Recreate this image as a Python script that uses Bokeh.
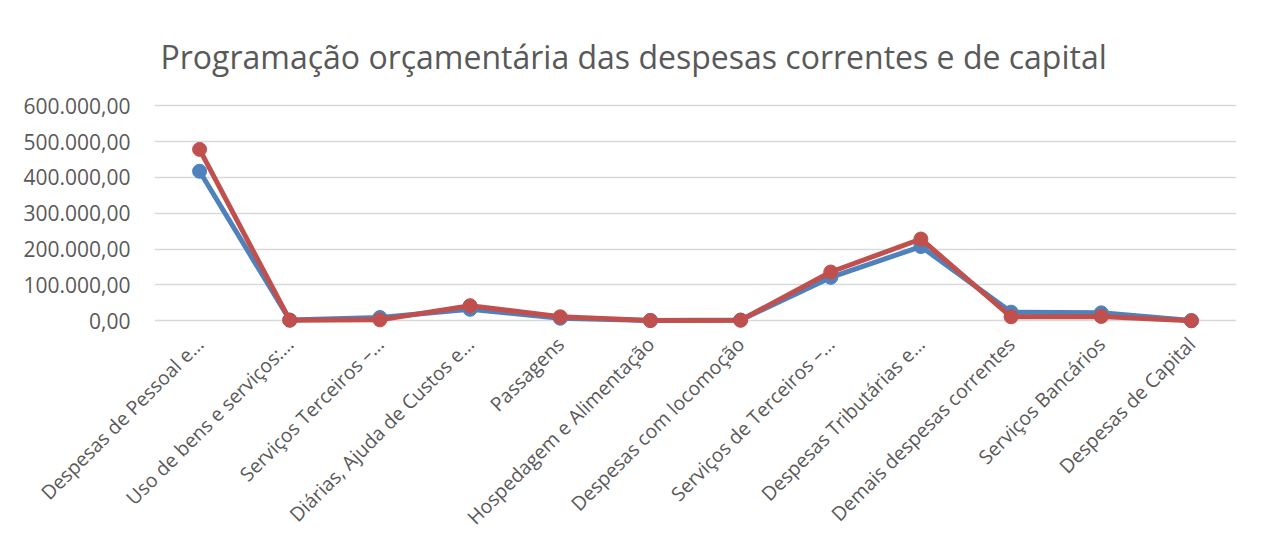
from bokeh.plotting import figure
from bokeh.models import FactorRange, Range1d, FixedTicker, ColumnDataSource
from bokeh.embed import file_html
from bokeh.resources import INLINE
import math

categories = [
    "Despesas de Pessoal e…",
    "Uso de bens e serviços:…",
    "Serviços Terceiros –…",
    "Diárias, Ajuda de Custos e…",
    "Passagens",
    "Hospedagem e Alimentação",
    "Despesas com locomoção",
    "Serviços de Terceiros –…",
    "Despesas Tributárias e…",
    "Demais despesas correntes",
    "Serviços Bancários",
    "Despesas de Capital",
]
serie_azul = [417000, 2000, 9000, 32000, 7000, 1000, 2000, 121000, 207000, 24000, 22000, 500]
serie_vermelha = [478000, 1500, 2500, 42000, 11000, 500, 1500, 136000, 228000, 11000, 12000, 0]
y_ticks = [0, 100000, 200000, 300000, 400000, 500000, 600000]
y_tick_labels = ["0,00", "100.000,00", "200.000,00", "300.000,00", "400.000,00", "500.000,00", "600.000,00"]
title_text = "Programação orçamentária das despesas correntes e de capital"

FONT = "Open Sans"
GREY = "#595959"

p = figure(
    width=1274, height=542,
    x_range=FactorRange(factors=categories),
    y_range=Range1d(-30000, 620000),
    output_backend="svg", toolbar_location=None,
    min_border_left=154, min_border_right=38, min_border_top=98, min_border_bottom=210,
)
p.outline_line_color = None
p.background_fill_color = "white"
p.border_fill_color = "white"

p.title.text = title_text
p.title.align = "left"
p.title.offset = 6
p.title.text_font = FONT
p.title.text_font_size = "32px"
p.title.text_font_style = "normal"
p.title.text_color = GREY
p.title.standoff = 41

src = ColumnDataSource(dict(x=categories, azul=serie_azul, verm=serie_vermelha))

p.line("x", "azul", source=src, line_color="#4F81BD", line_width=5)
p.scatter("x", "azul", source=src, size=14, fill_color="#4F81BD", line_color="#4F81BD")
p.line("x", "verm", source=src, line_color="#C0504D", line_width=5)
p.scatter("x", "verm", source=src, size=14, fill_color="#C0504D", line_color="#C0504D")

p.xgrid.grid_line_color = None
p.ygrid.grid_line_color = "#D9D9D9"
p.ygrid.grid_line_width = 1.5
p.yaxis.ticker = FixedTicker(ticks=y_ticks)
p.yaxis.major_label_overrides = {t: s for t, s in zip(y_ticks, y_tick_labels)}
p.yaxis.axis_line_color = None
p.yaxis.major_tick_line_color = None
p.yaxis.minor_tick_line_color = None
p.yaxis.major_tick_out = 0
p.yaxis.major_label_standoff = 24
p.yaxis.major_label_text_font = FONT
p.yaxis.major_label_text_font_size = "21px"
p.yaxis.major_label_text_color = GREY

p.xaxis.axis_line_color = None
p.xaxis.major_tick_line_color = None
p.xaxis.major_tick_out = 0
p.xaxis.major_label_orientation = math.pi / 4
p.xaxis.major_label_standoff = 9
p.xaxis.major_label_text_font = FONT
p.xaxis.major_label_text_font_size = "19.5px"
p.xaxis.major_label_text_color = GREY

open("out.html", "w").write(file_html(p, INLINE))
